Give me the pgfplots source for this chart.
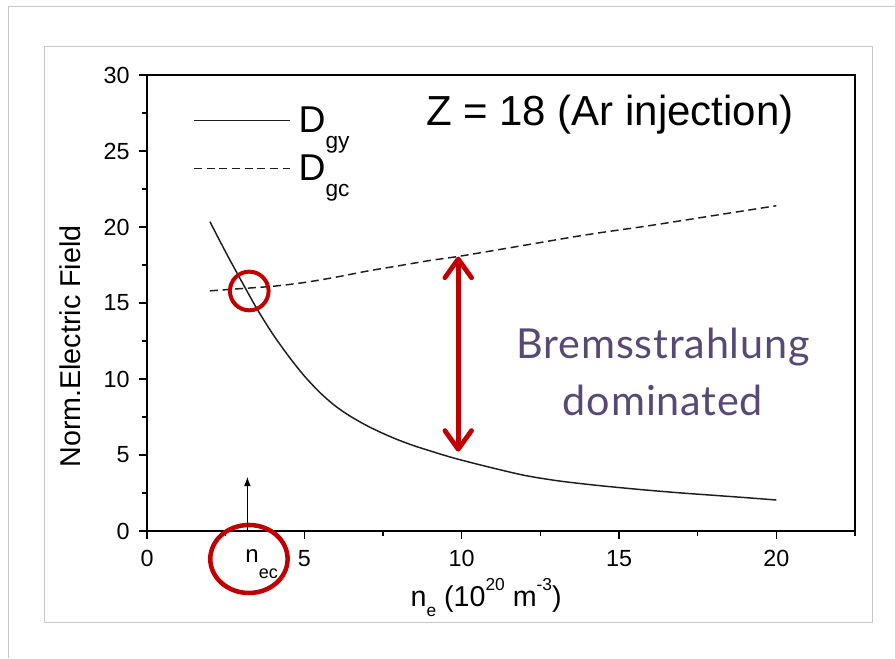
\documentclass[border=0pt]{standalone}
\usepackage{pgfplots}
\pgfplotsset{compat=1.18}
\usepackage{fontspec}
\setmainfont{Liberation Sans}
\newfontfamily\bremfont[LetterSpace=2]{Lato}
\usetikzlibrary{arrows.meta}
\definecolor{darkred}{RGB}{192,0,0}
\definecolor{bremcol}{RGB}{88,72,118}
\definecolor{framegray}{RGB}{200,200,200}
\definecolor{curvegray}{RGB}{30,30,30}
\newcommand\Dsub[1]{D\raisebox{-12pt}{\fontsize{17}{17}\selectfont #1}}
\begin{document}
\begin{tikzpicture}[x=0.75pt,y=-0.75pt]
\useasboundingbox (0,0) rectangle (895,658);
\fill[white] (0,0) rectangle (895,658);
\draw[framegray, line width=0.75pt] (8.5,657.5) -- (8.5,6.5) -- (895,6.5);
\draw[framegray, line width=0.75pt] (44.5,46) rectangle (872,622);
\begin{axis}[
  at={(110.25pt,-398.25pt)}, anchor=south west,
  scale only axis, width=531pt, height=342pt,
  xmin=0, xmax=22.5, ymin=0, ymax=30,
  xtick={0,5,10,15,20}, ytick={0,5,10,15,20,25,30},
  minor xtick={2.5,7.5,12.5,17.5,22.5},
  minor ytick={2.5,7.5,12.5,17.5,22.5,27.5},
  tick align=outside, major tick length=6pt, minor tick length=3.5pt,
  xtick pos=left, ytick pos=left,
  axis line style={line width=1.1pt},
  every tick/.style={black, line width=0.8pt},
  tick label style={font=\fontsize{17.5}{19}\selectfont},
  xticklabel style={yshift=-5pt},
  yticklabel style={xshift=-3.5pt},
  /pgf/number format/assume math mode=true,
  label style={font=\fontsize{21.5}{24}\selectfont},
  xlabel={n\raisebox{-0.35em}{\fontsize{13}{13}\selectfont e} (10\raisebox{0.55em}{\fontsize{13}{13}\selectfont 20} m\raisebox{0.55em}{\fontsize{13}{13}\selectfont -3})},
  xlabel style={at={(axis description cs:0.479,-0.1645)}, anchor=base},
  ylabel={Norm.Electric Field},
  ylabel style={at={(axis description cs:-0.0946,0.4046)}, anchor=base},
  clip=false,
  legend style={at={(axis cs:1.46,28.1)}, anchor=north west, draw=none, fill=none,
    font=\fontsize{28}{30}\selectfont, row sep=11pt, column sep=4pt, inner sep=0pt,
    cells={anchor=west}},
  legend image code/.code={\draw[#1] (0pt,0pt) -- (72pt,0pt);},
]
\addplot[curvegray, line width=1.1pt, smooth] coordinates {
(2.0,20.35) (2.5,18.35) (3.0,16.45) (3.5,14.6) (4.0,12.95) (4.5,11.5) (5.0,10.2)
(5.5,9.1) (6.0,8.2) (6.5,7.5) (7.0,6.92) (7.5,6.42) (8.0,5.98) (8.5,5.6)
(9.0,5.27) (9.5,4.95) (10.0,4.66) (11.0,4.14) (12.0,3.66) (13.0,3.32)
(14.0,3.07) (15.0,2.86) (16.0,2.67) (17.0,2.5) (18.0,2.35) (19.0,2.2) (20.0,2.04)};
\addlegendentry{\Dsub{gy}}
\addplot[curvegray, line width=1.1pt, dash pattern=on 6pt off 3.5pt, smooth] coordinates {
(2.0,15.8) (3.0,15.95) (4.0,16.1) (5.0,16.35) (6.0,16.7) (7.0,17.1) (8.0,17.45)
(9.0,17.8) (10.0,18.1) (12.0,18.8) (14.0,19.5) (16.0,20.1) (18.0,20.75) (20.0,21.4)};
\addlegendentry{\Dsub{gc}}
\node[anchor=base, font=\fontsize{31.5}{34}\selectfont] at (axis cs:14.71,26.71) {Z = 18 (Ar injection)};
\node[anchor=base, font=\bremfont\fontsize{31}{34}\selectfont, text=bremcol] at (axis cs:16.4,11.38) {Bremsstrahlung};
\node[anchor=base, font=\bremfont\fontsize{31}{34}\selectfont, text=bremcol] at (axis cs:16.4,7.63) {dominated};
\draw[darkred, line width=3.6pt, {Straight Barb[length=14pt,width=20pt,round]}-{Straight Barb[length=14pt,width=20pt,round]}] (axis cs:9.89,18.05) -- (axis cs:9.89,5.22);
\draw[darkred, line width=3pt] (axis cs:3.25,15.79) circle [radius=14.5pt];
\draw[darkred, line width=3.4pt] (axis cs:3.24,-1.84) ellipse [x radius=29pt, y radius=25.5pt];
\draw[-{Latex[length=7pt,width=5pt]}, line width=0.8pt] (axis cs:3.19,0) -- (axis cs:3.19,3.57);
\node[anchor=base west, inner sep=0pt, font=\fontsize{18}{20}\selectfont] at (axis cs:3.12,-2.1) {n\raisebox{-12pt}{\fontsize{13.5}{14}\selectfont ec}};
\end{axis}
\end{tikzpicture}
\end{document}
